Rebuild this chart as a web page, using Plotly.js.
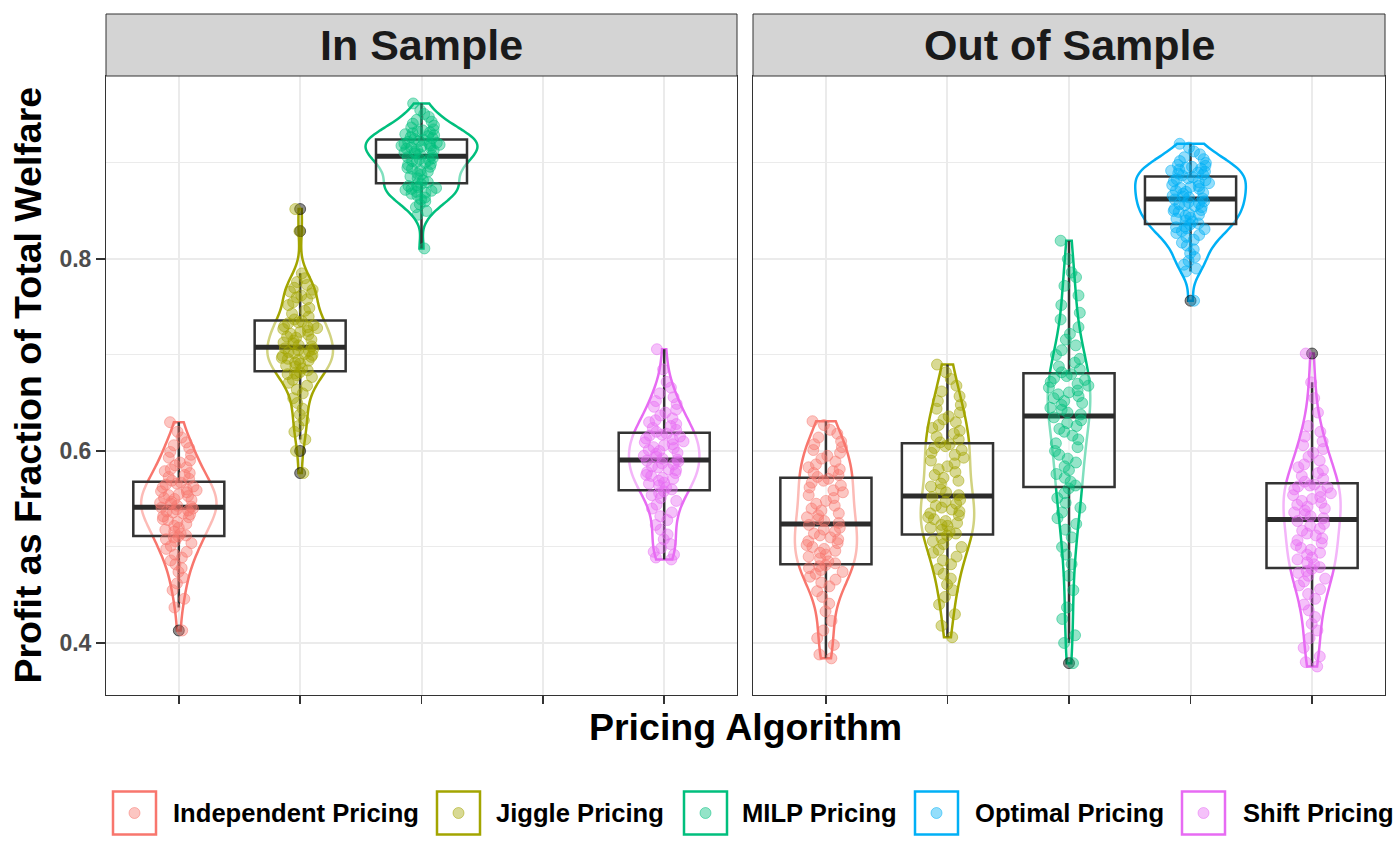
<!DOCTYPE html>
<html>
<head>
<meta charset="utf-8">
<script src="https://cdn.plot.ly/plotly-3.0.1.min.js"></script>
<style>
  html, body { margin: 0; padding: 0; background: #fff; }
  #myDiv { width: 1400px; height: 865px; }
</style>
</head>
<body>
<div id="myDiv"></div>
<script>
var algorithms = ['Independent Pricing', 'Jiggle Pricing', 'MILP Pricing', 'Optimal Pricing', 'Shift Pricing'];
var panels = ['In Sample', 'Out of Sample'];

// profit / total welfare, one value per run
var inIndependent = [0.413, 0.437, 0.446, 0.455, 0.462, 0.468, 0.474, 0.478, 0.482, 0.486, 0.489, 0.492, 0.495, 0.498, 0.501, 0.504, 0.506, 0.508, 0.510, 0.511,
  0.512, 0.514, 0.516, 0.518, 0.520, 0.522, 0.524, 0.526, 0.528, 0.529, 0.531, 0.532, 0.534, 0.535, 0.536, 0.537, 0.538, 0.539, 0.540, 0.541,
  0.542, 0.543, 0.545, 0.546, 0.547, 0.549, 0.550, 0.551, 0.553, 0.554, 0.555, 0.557, 0.558, 0.559, 0.560, 0.562, 0.563, 0.565, 0.566, 0.567,
  0.569, 0.571, 0.573, 0.575, 0.577, 0.579, 0.581, 0.583, 0.585, 0.588, 0.590, 0.593, 0.596, 0.599, 0.603, 0.606, 0.609, 0.614, 0.620, 0.630];
var inJiggle = [0.577, 0.600, 0.612, 0.620, 0.626, 0.632, 0.638, 0.644, 0.650, 0.655, 0.660, 0.664, 0.668, 0.671, 0.674, 0.677, 0.679, 0.680, 0.681, 0.682,
  0.684, 0.686, 0.688, 0.689, 0.691, 0.692, 0.694, 0.695, 0.696, 0.697, 0.698, 0.699, 0.700, 0.701, 0.702, 0.703, 0.704, 0.705, 0.706, 0.707,
  0.709, 0.710, 0.712, 0.713, 0.715, 0.716, 0.718, 0.719, 0.721, 0.722, 0.724, 0.725, 0.727, 0.728, 0.729, 0.730, 0.731, 0.733, 0.734, 0.735,
  0.737, 0.740, 0.743, 0.746, 0.749, 0.752, 0.755, 0.758, 0.760, 0.762, 0.764, 0.766, 0.768, 0.770, 0.773, 0.776, 0.780, 0.785, 0.829, 0.852];
var inMILP = [0.811, 0.846, 0.850, 0.854, 0.857, 0.860, 0.862, 0.864, 0.866, 0.868, 0.869, 0.870, 0.871, 0.872, 0.873, 0.874, 0.875, 0.876, 0.877, 0.878,
  0.880, 0.882, 0.884, 0.886, 0.888, 0.889, 0.891, 0.892, 0.894, 0.895, 0.896, 0.898, 0.899, 0.900, 0.901, 0.902, 0.903, 0.904, 0.905, 0.906,
  0.908, 0.909, 0.910, 0.911, 0.912, 0.913, 0.914, 0.915, 0.915, 0.916, 0.917, 0.918, 0.918, 0.919, 0.920, 0.920, 0.921, 0.922, 0.923, 0.924,
  0.925, 0.926, 0.927, 0.928, 0.929, 0.930, 0.931, 0.932, 0.933, 0.934, 0.935, 0.937, 0.939, 0.941, 0.943, 0.945, 0.948, 0.951, 0.955, 0.962];
var inShift = [0.487, 0.489, 0.492, 0.495, 0.499, 0.503, 0.508, 0.513, 0.518, 0.523, 0.528, 0.532, 0.536, 0.540, 0.544, 0.548, 0.551, 0.554, 0.556, 0.558,
  0.560, 0.562, 0.564, 0.566, 0.567, 0.569, 0.571, 0.572, 0.574, 0.575, 0.577, 0.578, 0.580, 0.581, 0.583, 0.584, 0.586, 0.587, 0.589, 0.590,
  0.591, 0.592, 0.594, 0.595, 0.597, 0.598, 0.600, 0.601, 0.603, 0.604, 0.606, 0.607, 0.609, 0.610, 0.612, 0.613, 0.615, 0.616, 0.617, 0.618,
  0.620, 0.622, 0.624, 0.626, 0.628, 0.630, 0.632, 0.634, 0.637, 0.640, 0.643, 0.646, 0.649, 0.652, 0.656, 0.660, 0.666, 0.672, 0.685, 0.706];

var outIndependent = [0.384, 0.388, 0.398, 0.405, 0.413, 0.423, 0.433, 0.441, 0.448, 0.454, 0.459, 0.463, 0.466, 0.469, 0.472, 0.474, 0.476, 0.478, 0.480, 0.481,
  0.483, 0.485, 0.488, 0.490, 0.492, 0.494, 0.496, 0.498, 0.500, 0.502, 0.504, 0.506, 0.508, 0.510, 0.512, 0.514, 0.516, 0.518, 0.520, 0.523,
  0.525, 0.527, 0.529, 0.531, 0.533, 0.535, 0.538, 0.540, 0.543, 0.545, 0.548, 0.551, 0.554, 0.557, 0.559, 0.562, 0.564, 0.567, 0.569, 0.571,
  0.573, 0.575, 0.577, 0.579, 0.581, 0.583, 0.586, 0.589, 0.592, 0.595, 0.598, 0.601, 0.604, 0.607, 0.610, 0.614, 0.618, 0.622, 0.627, 0.631];
var outJiggle = [0.406, 0.418, 0.430, 0.440, 0.448, 0.455, 0.461, 0.467, 0.472, 0.477, 0.482, 0.486, 0.490, 0.494, 0.497, 0.500, 0.503, 0.506, 0.509, 0.512,
  0.514, 0.516, 0.518, 0.520, 0.522, 0.523, 0.525, 0.527, 0.529, 0.531, 0.533, 0.535, 0.537, 0.539, 0.541, 0.543, 0.545, 0.547, 0.549, 0.552,
  0.554, 0.557, 0.560, 0.563, 0.566, 0.569, 0.572, 0.575, 0.578, 0.581, 0.584, 0.587, 0.590, 0.593, 0.596, 0.598, 0.601, 0.603, 0.605, 0.607,
  0.609, 0.612, 0.615, 0.618, 0.621, 0.624, 0.627, 0.630, 0.633, 0.636, 0.640, 0.644, 0.648, 0.652, 0.657, 0.662, 0.668, 0.675, 0.682, 0.690];
var outMILP = [0.379, 0.400, 0.408, 0.425, 0.437, 0.455, 0.470, 0.482, 0.492, 0.500, 0.510, 0.518, 0.524, 0.530, 0.536, 0.541, 0.546, 0.551, 0.556, 0.561,
  0.564, 0.568, 0.572, 0.576, 0.580, 0.584, 0.588, 0.592, 0.596, 0.600, 0.604, 0.608, 0.612, 0.616, 0.620, 0.623, 0.626, 0.629, 0.632, 0.635,
  0.638, 0.640, 0.643, 0.645, 0.648, 0.650, 0.652, 0.655, 0.657, 0.659, 0.661, 0.663, 0.666, 0.668, 0.670, 0.672, 0.674, 0.676, 0.678, 0.680,
  0.682, 0.685, 0.688, 0.692, 0.696, 0.700, 0.705, 0.710, 0.716, 0.722, 0.729, 0.737, 0.744, 0.752, 0.762, 0.772, 0.781, 0.786, 0.800, 0.819];
var outOptimal = [0.7565, 0.787, 0.790, 0.794, 0.798, 0.802, 0.806, 0.810, 0.814, 0.817, 0.820, 0.823, 0.825, 0.827, 0.829, 0.831, 0.832, 0.833, 0.834, 0.836,
  0.837, 0.839, 0.840, 0.842, 0.843, 0.845, 0.846, 0.847, 0.849, 0.850, 0.851, 0.852, 0.854, 0.855, 0.856, 0.857, 0.858, 0.859, 0.860, 0.862,
  0.863, 0.864, 0.865, 0.866, 0.868, 0.869, 0.870, 0.871, 0.873, 0.874, 0.875, 0.876, 0.877, 0.879, 0.880, 0.881, 0.882, 0.883, 0.884, 0.885,
  0.887, 0.888, 0.889, 0.890, 0.891, 0.892, 0.893, 0.894, 0.895, 0.896, 0.897, 0.898, 0.900, 0.902, 0.904, 0.906, 0.909, 0.912, 0.916, 0.920];
var outShift = [0.3755, 0.380, 0.386, 0.395, 0.405, 0.413, 0.420, 0.427, 0.434, 0.440, 0.446, 0.451, 0.456, 0.460, 0.464, 0.467, 0.470, 0.473, 0.475, 0.477,
  0.479, 0.482, 0.484, 0.487, 0.489, 0.492, 0.494, 0.497, 0.499, 0.502, 0.504, 0.507, 0.509, 0.512, 0.514, 0.517, 0.519, 0.522, 0.524, 0.527,
  0.530, 0.532, 0.534, 0.536, 0.538, 0.540, 0.542, 0.544, 0.546, 0.548, 0.550, 0.552, 0.554, 0.556, 0.558, 0.560, 0.562, 0.563, 0.564, 0.565,
  0.568, 0.571, 0.574, 0.577, 0.580, 0.583, 0.586, 0.590, 0.594, 0.598, 0.602, 0.606, 0.610, 0.615, 0.620, 0.626, 0.640, 0.655, 0.6715, 0.7015];

var groups = [
  {panel: 0, alg: 0, values: inIndependent},
  {panel: 0, alg: 1, values: inJiggle},
  {panel: 0, alg: 2, values: inMILP},
  {panel: 0, alg: 4, values: inShift},
  {panel: 1, alg: 0, values: outIndependent},
  {panel: 1, alg: 1, values: outJiggle},
  {panel: 1, alg: 2, values: outMILP},
  {panel: 1, alg: 3, values: outOptimal},
  {panel: 1, alg: 4, values: outShift}
];

// widest point of each violin (x units), same order as groups
var violinWidth = [0.62, 0.54, 0.92, 0.58, 0.51, 0.44, 0.35, 0.91, 0.47];

var colors = ['#F8766D', '#A3A500', '#00BF7D', '#00B0F6', '#E76BF3'];
function rgba(hex, a) {
  var n = parseInt(hex.slice(1), 16);
  return 'rgba(' + (n >> 16) + ',' + ((n >> 8) & 255) + ',' + (n & 255) + ',' + a + ')';
}

function quant(s, p) {
  var h = (s.length - 1) * p, lo = Math.floor(h);
  return s[lo] + (h - lo) * ((s[lo + 1] === undefined ? s[lo] : s[lo + 1]) - s[lo]);
}
// R's bw.nrd0, same as ggplot's default violin bandwidth
function nrd0(v) {
  var s = v.slice().sort(function(a, b) { return a - b; });
  var n = s.length, mean = 0, ss = 0;
  s.forEach(function(x) { mean += x / n; });
  s.forEach(function(x) { ss += (x - mean) * (x - mean); });
  var sd = Math.sqrt(ss / (n - 1));
  var lo = Math.min(sd, (quant(s, 0.75) - quant(s, 0.25)) / 1.34);
  return 0.9 * lo * Math.pow(n, -0.2);
}
function median(v) {
  var s = v.slice().sort(function(a, b) { return a - b; });
  return quant(s, 0.5);
}

var violins = [], boxes = [], medians = [], jitters = [];
groups.forEach(function(g, gi) {
  var xa = g.panel === 0 ? 'x' : 'x2';
  var ya = g.panel === 0 ? 'y' : 'y2';
  var pos = g.alg + 1;
  var col = colors[g.alg];
  violins.push({
    type: 'violin', y: g.values, x0: pos, xaxis: xa, yaxis: ya, width: violinWidth[gi],
    name: algorithms[g.alg], showlegend: false, hoverinfo: 'skip',
    line: {color: col, width: 2.5}, fillcolor: 'rgba(0,0,0,0)',
    points: false, spanmode: 'hard',
    bandwidth: nrd0(g.values), box: {visible: false}, meanline: {visible: false}
  });
  boxes.push({
    type: 'box', y: g.values, x0: pos, xaxis: xa, yaxis: ya, width: 0.75,
    showlegend: false, hoverinfo: 'skip',
    line: {color: '#333333', width: 2.5}, fillcolor: 'rgba(255,255,255,0.5)',
    whiskerwidth: 0, boxpoints: 'outliers', pointpos: 0, jitter: 0,
    marker: {color: 'rgba(0,0,0,0.45)', size: 11, line: {color: 'rgba(0,0,0,0.55)', width: 1}}
  });
  var m = median(g.values);
  medians.push({
    type: 'box', x: [pos], q1: [m], median: [m], q3: [m], lowerfence: [m], upperfence: [m],
    xaxis: xa, yaxis: ya, width: 0.75, showlegend: false, hoverinfo: 'skip',
    line: {color: '#2b2b2b', width: 5}, fillcolor: 'rgba(0,0,0,0)', whiskerwidth: 0, boxpoints: false
  });
  jitters.push({
    type: 'box', y: g.values, x0: pos, xaxis: xa, yaxis: ya, width: 0.34,
    showlegend: false, hoverinfo: 'skip',
    line: {color: 'rgba(0,0,0,0)', width: 0}, fillcolor: 'rgba(0,0,0,0)', whiskerwidth: 0,
    boxpoints: 'all', jitter: 1, pointpos: 0,
    marker: {color: rgba(col, 0.42), size: 11, line: {color: rgba(col, 0.5), width: 1}}
  });
});

var data = violins.concat(boxes, medians, jitters);

// plot area in pixels: x 106..1385, y 76..695
var L = 106, R = 1385, T = 76, B = 695;
function px(x) { return (x - L) / (R - L); }
function py(y) { return (B - y) / (B - T); }

var dom1 = [0, px(737)], dom2 = [px(753), 1];

function xAxis(domain, anchor) {
  return {
    domain: domain, anchor: anchor, type: 'linear', range: [0.4, 5.6],
    tickmode: 'array', tickvals: [1, 2, 3, 4, 5], showticklabels: false,
    ticks: 'outside', ticklen: 8, tickwidth: 1.5, tickcolor: '#333333',
    showgrid: true, gridcolor: '#EBEBEB', gridwidth: 2, zeroline: false,
    showline: true, mirror: true, linecolor: '#333333', linewidth: 1, fixedrange: true
  };
}
function yAxis(anchor, labels) {
  var ax = {
    anchor: anchor, domain: [0, 1], type: 'linear', range: [0.3458, 0.9906],
    tick0: 0.4, dtick: 0.2, showticklabels: labels,
    ticks: labels ? 'outside' : '', ticklen: 9, tickwidth: 1.5, tickcolor: '#333333',
    tickfont: {family: 'Liberation Sans, Arial, sans-serif', size: 23, color: '#4D4D4D', weight: 'bold'},
    showgrid: true, gridcolor: '#EBEBEB', gridwidth: 2, zeroline: false,
    minor: {tick0: 0, dtick: 0.1, showgrid: true, gridcolor: '#EBEBEB', gridwidth: 1, ticks: ''},
    showline: true, mirror: true, linecolor: '#333333', linewidth: 1, fixedrange: true
  };
  if (!labels) ax.matches = 'y';
  return ax;
}

var font = 'Liberation Sans, Arial, sans-serif';
var shapes = [], annotations = [];

[dom1, dom2].forEach(function(d, i) {
  shapes.push({type: 'rect', xref: 'paper', yref: 'paper', x0: d[0], x1: d[1], y0: 1, y1: py(14),
    fillcolor: '#D4D4D4', line: {color: '#333333', width: 1}});
  annotations.push({xref: 'paper', yref: 'paper', x: (d[0] + d[1]) / 2, y: py(45), text: panels[i],
    showarrow: false, xanchor: 'center', yanchor: 'middle',
    font: {family: font, size: 43, color: '#1A1A1A', weight: 'bold'}});
});

annotations.push({xref: 'paper', yref: 'paper', x: 0.5, y: py(727), text: 'Pricing Algorithm',
  showarrow: false, xanchor: 'center', yanchor: 'middle',
  font: {family: font, size: 37.5, color: '#000000', weight: 'bold'}});
annotations.push({xref: 'paper', yref: 'paper', x: px(27), y: 0.5, text: 'Profit as Fraction of Total Welfare',
  textangle: -90, showarrow: false, xanchor: 'center', yanchor: 'middle',
  font: {family: font, size: 37.5, color: '#000000', weight: 'bold'}});

// legend drawn by hand, ggplot style keys
var keyLeft = [113, 437, 684, 915, 1182];
var textLeft = [174, 497, 743, 976, 1244];
var keyMid = 813, keySize = 43;
algorithms.forEach(function(a, i) {
  shapes.push({type: 'rect', xref: 'paper', yref: 'paper',
    x0: px(keyLeft[i]), x1: px(keyLeft[i] + keySize), y0: py(keyMid - keySize / 2), y1: py(keyMid + keySize / 2),
    fillcolor: '#FFFFFF', line: {color: colors[i], width: 2.5}});
  var cx = keyLeft[i] + keySize / 2;
  shapes.push({type: 'circle', xref: 'paper', yref: 'paper',
    x0: px(cx - 5.5), x1: px(cx + 5.5), y0: py(keyMid - 5.5), y1: py(keyMid + 5.5),
    fillcolor: rgba(colors[i], 0.42), line: {color: rgba(colors[i], 0.5), width: 1}});
  annotations.push({xref: 'paper', yref: 'paper', x: px(textLeft[i] - 2), y: py(keyMid), text: a,
    showarrow: false, xanchor: 'left', yanchor: 'middle', borderpad: 0,
    font: {family: font, size: 25.6, color: '#000000', weight: 'bold'}});
});

var layout = {
  width: 1400, height: 865,
  margin: {l: L, r: 1400 - R, t: T, b: 865 - B, pad: 0},
  paper_bgcolor: '#FFFFFF', plot_bgcolor: '#FFFFFF',
  showlegend: false, hovermode: false,
  boxmode: 'overlay', violinmode: 'overlay',
  xaxis: xAxis(dom1, 'y'), xaxis2: xAxis(dom2, 'y2'),
  yaxis: yAxis('x', true), yaxis2: yAxis('x2', false),
  shapes: shapes, annotations: annotations
};

Plotly.newPlot('myDiv', data, layout, {displayModeBar: false, staticPlot: true});
</script>
</body>
</html>
